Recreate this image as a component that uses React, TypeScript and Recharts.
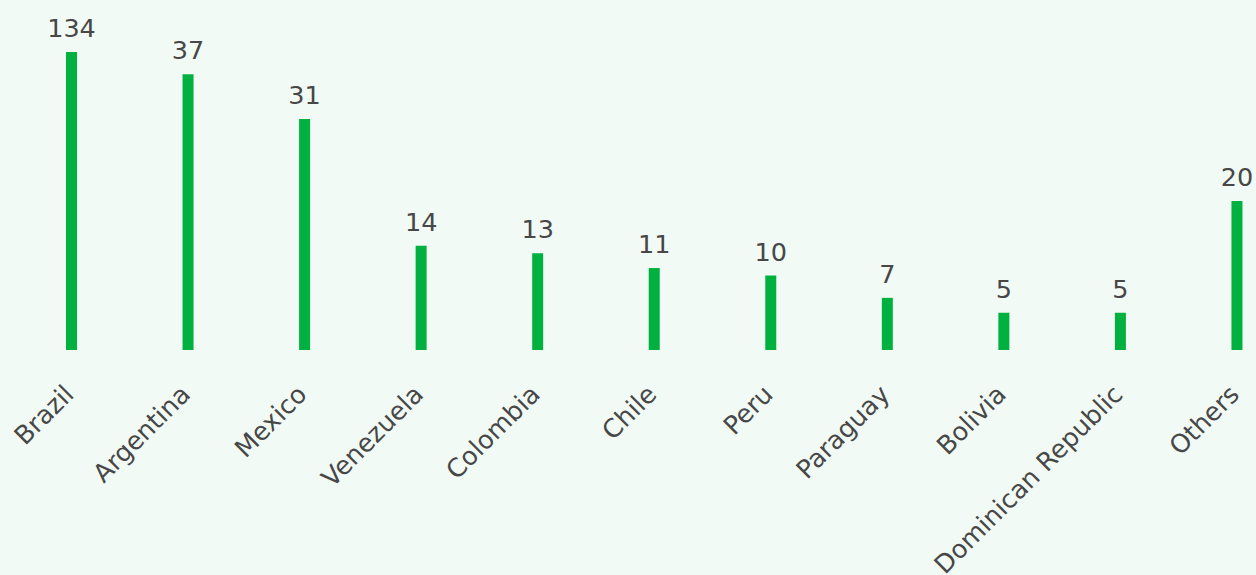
import { BarChart, Bar, XAxis, YAxis, LabelList } from "recharts";

const COUNTRIES = [
  "Brazil",
  "Argentina",
  "Mexico",
  "Venezuela",
  "Colombia",
  "Chile",
  "Peru",
  "Paraguay",
  "Bolivia",
  "Dominican Republic",
  "Others",
];
const COUNTS = [134, 37, 31, 14, 13, 11, 10, 7, 5, 5, 20];

// the tall Brazil bar is cut off at the top of the axis
const AXIS_CAP = 40;

const BG = "#f1faf5";
const GREEN = "#00b140";
const TEXT = "#474747";
const FONT = "'DejaVu Sans', sans-serif";

const data = COUNTRIES.map((name, i) => ({
  name,
  count: COUNTS[i],
  shown: Math.min(COUNTS[i], AXIS_CAP),
}));

function CountryTick(props: any) {
  const { x, y, payload } = props;
  const ax = x + 4;
  const ay = y + 38;
  return (
    <text
      x={ax}
      y={ay}
      textAnchor="end"
      fill={TEXT}
      fontSize={25.5}
      fontFamily={FONT}
      transform={`rotate(-45, ${ax}, ${ay})`}
    >
      {payload.value}
    </text>
  );
}

export default function App() {
  return (
    <div
      style={{
        position: "absolute",
        left: 0,
        top: 0,
        width: 1256,
        height: 575,
        background: BG,
        overflow: "hidden",
      }}
    >
      <BarChart
        width={1256}
        height={575}
        data={data}
        margin={{ top: 52, right: -39, bottom: 0, left: 13 }}
      >
        <XAxis
          dataKey="name"
          height={225}
          axisLine={false}
          tickLine={false}
          interval={0}
          tick={<CountryTick />}
        />
        <YAxis hide domain={[0, AXIS_CAP]} />
        <Bar dataKey="shown" fill={GREEN} barSize={11} isAnimationActive={false}>
          <LabelList
            dataKey="count"
            position="top"
            offset={15}
            fill={TEXT}
            fontSize={25.5}
            fontFamily={FONT}
          />
        </Bar>
      </BarChart>
    </div>
  );
}
